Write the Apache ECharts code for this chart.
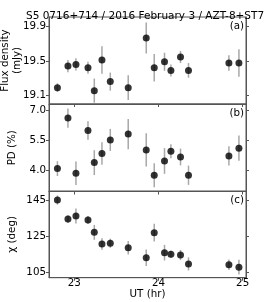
<!DOCTYPE html>
<html><head><meta charset="utf-8">
<script src="https://cdn.jsdelivr.net/npm/echarts@6/dist/echarts.min.js"></script>
<style>html,body{margin:0;padding:0;background:#fff}#c{width:274px;height:302px}</style>
</head><body><div id="c"></div>
<script>
const titleText = 'S5 0716+714 / 2016 February 3 / AZT-8+ST7';
const ut = [22.80, 22.925, 23.02, 23.163, 23.238, 23.329, 23.428, 23.641, 23.855, 23.95, 24.072, 24.148, 24.262, 24.357, 24.837, 24.956];
const flux = [19.19, 19.44, 19.46, 19.42, 19.155, 19.51, 19.26, 19.19, 19.765, 19.42, 19.49, 19.39, 19.545, 19.39, 19.475, 19.475];
const fluxErr = [0.05, 0.07, 0.07, 0.07, 0.14, 0.16, 0.105, 0.145, 0.18, 0.16, 0.105, 0.07, 0.07, 0.085, 0.09, 0.16];
const pd = [4.10, 6.62, 3.87, 6.00, 4.40, 4.85, 5.53, 5.82, 5.03, 3.77, 4.48, 4.97, 4.68, 3.77, 4.73, 5.12];
const pdErr = [0.37, 0.48, 0.58, 0.46, 0.62, 0.56, 0.55, 0.75, 0.83, 0.6, 0.64, 0.35, 0.42, 0.48, 0.48, 0.63];
const chi = [145.0, 134.5, 136.2, 134.0, 127.2, 120.8, 121.2, 118.7, 113.2, 127.0, 116.0, 115.1, 114.7, 109.8, 109.4, 108.0];
const chiErr = [2.5, 2.1, 4.1, 2.2, 4.1, 3.2, 2.5, 3.7, 4.6, 4.9, 4.3, 2.0, 2.8, 3.6, 2.9, 4.1];
const xTicks = [23, 24, 25];
const fluxTicks = [19.1, 19.5, 19.9];
const pdTicks = [4.0, 5.5, 7.0];
const chiTicks = [105, 125, 145];
const panelLabels = ['(a)', '(b)', '(c)'];
const yNames = [['Flux density', '(mJy)'], ['PD (%)'], ['χ (deg)']];
const xName = 'UT (hr)';

const FONT = 'DejaVu Sans';
const frame = '#555';
const xRange = [22.7, 25.04];
const panels = [
  {vals: flux, errs: fluxErr, ticks: fluxTicks, min: 19.0, max: 20.01, fmt: v => v.toFixed(1), top: 17, height: 87, nameX: [5.5, 17.5]},
  {vals: pd, errs: pdErr, ticks: pdTicks, min: 2.96, max: 7.32, fmt: v => v.toFixed(1), top: 104, height: 87.5, nameX: [12.5]},
  {vals: chi, errs: chiErr, ticks: chiTicks, min: 102.2, max: 150, fmt: v => String(v), top: 191, height: 86.7, nameX: [12.5]}
];

const grid = [], xAxis = [], yAxis = [], series = [], graphic = [];
panels.forEach((p, i) => {
  grid.push({left: 49, right: 28, top: p.top, height: p.height, show: true, borderColor: frame, borderWidth: 1, backgroundColor: 'transparent'});
  xAxis.push({
    gridIndex: i, type: 'value', min: xRange[0], max: xRange[1],
    axisLine: {show: true, onZero: false, lineStyle: {color: frame, width: 1}},
    axisTick: {show: true, inside: false, length: 3, customValues: xTicks, lineStyle: {color: frame}},
    axisLabel: {show: i === 2, customValues: xTicks, margin: 1, color: '#000', fontFamily: FONT, fontSize: 10.3},
    splitLine: {show: false},
    name: i === 2 ? xName : '', nameLocation: 'middle', nameGap: 12,
    nameTextStyle: {color: '#000', fontFamily: FONT, fontSize: 10.3}
  });
  yAxis.push({
    gridIndex: i, type: 'value', min: p.min, max: p.max, position: 'left',
    axisLine: {show: true, onZero: false, lineStyle: {color: frame, width: 1}},
    axisTick: {show: true, inside: false, length: 3, customValues: p.ticks, lineStyle: {color: frame}},
    axisLabel: {customValues: p.ticks, formatter: p.fmt, margin: 3, color: '#000', fontFamily: FONT, fontSize: 10.3},
    splitLine: {show: false}
  });
  yAxis.push({
    gridIndex: i, type: 'value', min: p.min, max: p.max, position: 'right',
    axisLine: {show: true, onZero: false, lineStyle: {color: frame, width: 1}},
    axisTick: {show: true, inside: false, length: 3, customValues: p.ticks, lineStyle: {color: frame}},
    axisLabel: {show: false}, splitLine: {show: false}
  });
  const lo = p.min, hi = p.max;
  series.push({
    type: 'custom', xAxisIndex: i, yAxisIndex: 2 * i, z: 1, silent: true,
    data: ut.map((x, k) => [x, p.vals[k] - p.errs[k], p.vals[k] + p.errs[k]]),
    renderItem: (params, api) => {
      const x = api.value(0);
      const a = api.coord([x, Math.max(api.value(1), lo)]);
      const b = api.coord([x, Math.min(api.value(2), hi)]);
      return {type: 'line', shape: {x1: a[0], y1: a[1], x2: b[0], y2: b[1]}, style: {stroke: '#a8a8a8', lineWidth: 1.5}};
    }
  });
  series.push({
    type: 'scatter', xAxisIndex: i, yAxisIndex: 2 * i, z: 3, symbol: 'circle', symbolSize: 7,
    itemStyle: {color: '#000'},
    data: ut.map((x, k) => [x, p.vals[k]])
  });
  graphic.push({type: 'text', right: 30, top: p.top + 4, style: {text: panelLabels[i], fill: '#000', font: '10.3px "DejaVu Sans"'}});
  yNames[i].forEach((t, j) => {
    graphic.push({type: 'text', x: p.nameX[j], y: p.top + p.height / 2, rotation: Math.PI / 2,
      style: {text: t, fill: '#000', font: '10.3px "DejaVu Sans"', align: 'center', verticalAlign: 'middle'}});
  });
});

const chart = echarts.init(document.getElementById('c'), null, {renderer: 'canvas'});
chart.setOption({
  animation: false,
  backgroundColor: '#fff',
  title: {text: titleText, left: 21, top: 6, textStyle: {fontFamily: FONT, fontSize: 10.5, fontWeight: 'normal', color: '#000'}},
  grid, xAxis, yAxis, series, graphic
});
</script></body></html>
